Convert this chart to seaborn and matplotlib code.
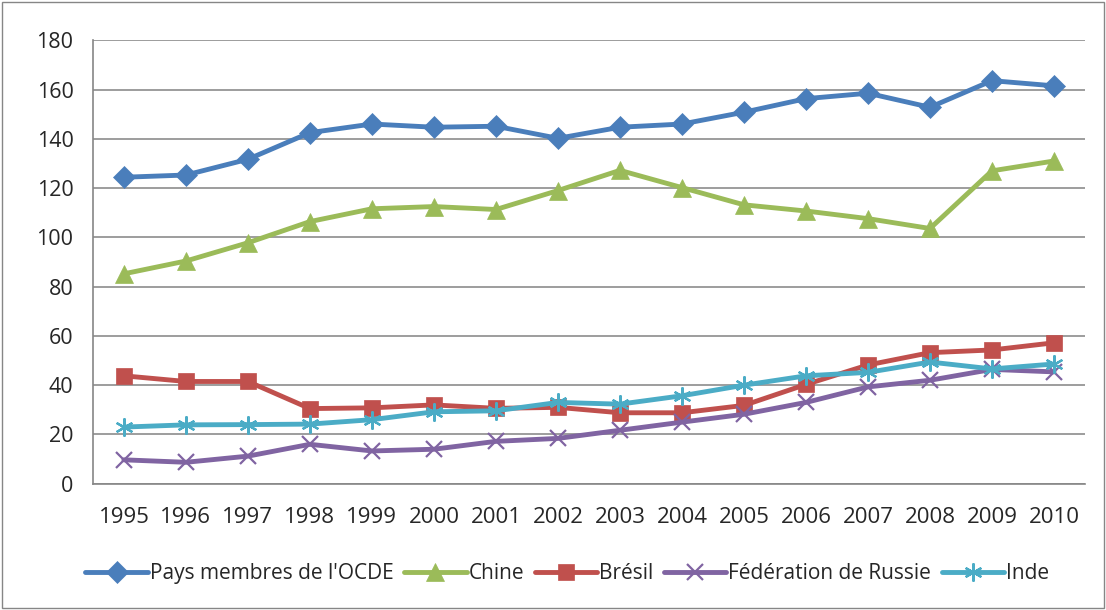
import numpy as np
import pandas as pd
import matplotlib
matplotlib.use("Agg")
import matplotlib.pyplot as plt
import seaborn as sns
from matplotlib.patches import Rectangle

years = ["1995", "1996", "1997", "1998", "1999", "2000", "2001", "2002",
         "2003", "2004", "2005", "2006", "2007", "2008", "2009", "2010"]

ocde = [124.4, 125.3, 131.7, 142.5, 146.0, 144.7, 145.1, 140.2,
        144.7, 146.0, 150.8, 156.3, 158.5, 152.8, 163.6, 161.5]
chine = [85.2, 90.4, 97.8, 106.4, 111.6, 112.5, 111.3, 119.0,
         127.2, 120.2, 113.2, 110.7, 107.6, 103.6, 127.0, 131.0]
bresil = [43.8, 41.5, 41.5, 30.5, 30.8, 32.0, 30.6, 31.0,
          28.8, 28.8, 31.8, 40.3, 48.2, 53.2, 54.3, 57.2]
russie = [9.7, 8.7, 11.2, 16.0, 13.3, 14.0, 17.2, 18.4,
          21.7, 25.0, 28.2, 33.0, 39.3, 42.0, 46.4, 45.4]
inde = [23.0, 23.9, 24.0, 24.2, 26.0, 29.2, 29.6, 33.0,
        32.3, 35.7, 40.0, 43.8, 45.2, 49.4, 46.6, 48.6]

series = ["Pays membres de l'OCDE", "Chine", "Brésil", "Fédération de Russie", "Inde"]
values = [ocde, chine, bresil, russie, inde]
colors = ["#4A7EBB", "#9BBB59", "#C0504D", "#8064A2", "#4BACC6"]
markers = ["D", "^", "s", "x", (6, 2, 0)]
msizes = [11, 13, 12, 12, 13]

sns.set_style("white")
plt.rcParams["font.family"] = ["Open Sans", "DejaVu Sans"]

fig = plt.figure(figsize=(11.06, 6.1), dpi=100)
ax = fig.add_axes([0.084, 0.207, 0.897, 0.727])

pos = np.arange(len(years))
for name, vals, c, m, ms in zip(series, values, colors, markers, msizes):
    sns.lineplot(x=pos, y=vals, ax=ax, color=c, linewidth=3.5, marker=m,
                 markersize=ms, markeredgewidth=1.6 if m in ("x", (6, 2, 0)) else 0.5,
                 markeredgecolor=c, label=name)

ax.set_xlim(-0.5, len(years) - 0.5)
ax.set_ylim(0, 180)
ax.set_yticks(np.arange(0, 181, 20))
ax.set_xticks(pos)
ax.set_xticklabels(years)
ax.set_xticks(np.arange(-0.5, len(years), 1), minor=True)
ax.tick_params(axis="x", which="major", length=0, pad=17, labelsize=16)
ax.tick_params(axis="x", which="minor", length=6, color="#868686", width=1.2, direction="out")
ax.tick_params(axis="y", length=6, color="#868686", width=1.2, direction="out", pad=8, labelsize=15.5)
ax.grid(axis="y", color="#8c8c8c", linewidth=1.2)
ax.set_axisbelow(True)
for s in ["top", "right"]:
    ax.spines[s].set_visible(False)
for s in ["left", "bottom"]:
    ax.spines[s].set_color("#868686")
    ax.spines[s].set_linewidth(1.2)

handles, labels = ax.get_legend_handles_labels()
ax.get_legend().remove()
fig.legend(handles, labels, loc="center", bbox_to_anchor=(0.513, 0.06), ncol=5, frameon=False,
           fontsize=15, handlelength=3.0, handletextpad=0.1, columnspacing=0.5)

fig.patches.append(Rectangle((0.002, 0.003), 0.996, 0.994, transform=fig.transFigure,
                             fill=False, edgecolor="#868686", linewidth=1))

fig.savefig("out.png", dpi=100)
